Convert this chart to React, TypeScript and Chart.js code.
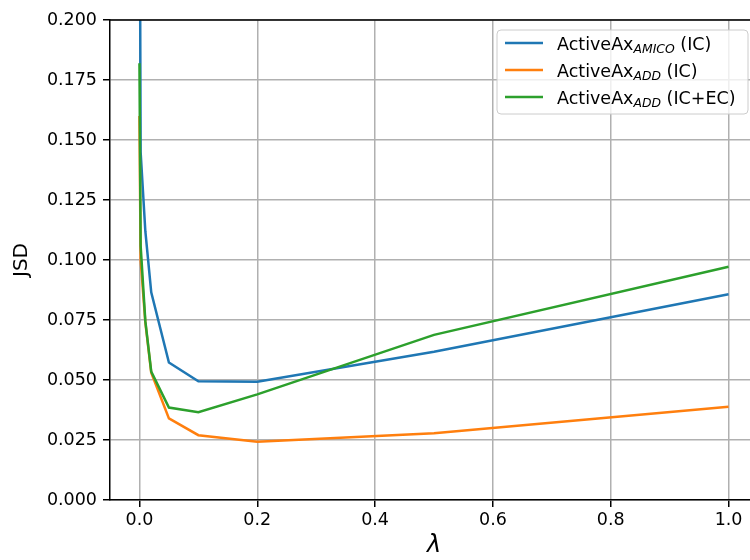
import React, { useEffect, useRef } from "react";
import { Chart, registerables } from "chart.js";

Chart.register(...registerables);

const LAMBDA = [0, 0.002, 0.01, 0.02, 0.05, 0.1, 0.2, 0.5, 1.0];
const AMICO_IC = [0.3, 0.145, 0.112, 0.0865, 0.0573, 0.0495, 0.0493, 0.0618, 0.0857];
const ADD_IC = [0.16, 0.1, 0.074, 0.053, 0.034, 0.027, 0.0243, 0.0278, 0.0389];
const ADD_ICEC = [0.182, 0.106, 0.0745, 0.0535, 0.0385, 0.0366, 0.044, 0.0688, 0.0972];

const X_TICKS = [0, 0.2, 0.4, 0.6, 0.8, 1.0];
const Y_TICKS = [0, 0.025, 0.05, 0.075, 0.1, 0.125, 0.15, 0.175, 0.2];

const SERIES_BASE = ["ActiveAx", "ActiveAx", "ActiveAx"];
const SERIES_SUB = ["AMICO", "ADD", "ADD"];
const SERIES_SUFFIX = [" (IC)", " (IC)", " (IC+EC)"];
const SERIES_VALUES = [AMICO_IC, ADD_IC, ADD_ICEC];
const COLORS = ["#1f77b4", "#ff7f0e", "#2ca02c"];

const FAMILY = '"DejaVu Sans", sans-serif';
const FS = 17.5;
const CANVAS_W = 770;
const CANVAS_H = 560;

const framePlugin = {
  id: "frameAndLegend",
  afterDatasetsDraw(chart: any) {
    const ctx = chart.ctx as CanvasRenderingContext2D;
    const ca = chart.chartArea;
    ctx.save();
    // top and right spines
    ctx.strokeStyle = "#000";
    ctx.lineWidth = 1.5;
    ctx.beginPath();
    ctx.moveTo(ca.left, ca.top);
    ctx.lineTo(ca.right, ca.top);
    ctx.lineTo(ca.right, ca.bottom);
    ctx.stroke();

    // legend
    const right = ca.right - 10;
    const top = ca.top + 10;
    const w = 251;
    const h = 84;
    const left = right - w;
    const r = 4;
    ctx.beginPath();
    ctx.moveTo(left + r, top);
    ctx.lineTo(left + w - r, top);
    ctx.quadraticCurveTo(left + w, top, left + w, top + r);
    ctx.lineTo(left + w, top + h - r);
    ctx.quadraticCurveTo(left + w, top + h, left + w - r, top + h);
    ctx.lineTo(left + r, top + h);
    ctx.quadraticCurveTo(left, top + h, left, top + h - r);
    ctx.lineTo(left, top + r);
    ctx.quadraticCurveTo(left, top, left + r, top);
    ctx.closePath();
    ctx.fillStyle = "rgba(255,255,255,0.8)";
    ctx.fill();
    ctx.strokeStyle = "#cccccc";
    ctx.lineWidth = 1;
    ctx.stroke();

    for (let i = 0; i < SERIES_BASE.length; i++) {
      const cy = top + 13 + i * 27;
      ctx.strokeStyle = COLORS[i];
      ctx.lineWidth = 2.5;
      ctx.beginPath();
      ctx.moveTo(left + 8, cy);
      ctx.lineTo(left + 46, cy);
      ctx.stroke();

      ctx.fillStyle = "#000";
      ctx.textBaseline = "alphabetic";
      ctx.textAlign = "left";
      let x = left + 60;
      const base = cy + 7;
      ctx.font = `${FS}px ${FAMILY}`;
      ctx.fillText(SERIES_BASE[i], x, base);
      x += ctx.measureText(SERIES_BASE[i]).width;
      ctx.font = `italic ${FS * 0.71}px ${FAMILY}`;
      ctx.fillText(SERIES_SUB[i], x, base + 3);
      x += ctx.measureText(SERIES_SUB[i]).width;
      ctx.font = `${FS}px ${FAMILY}`;
      ctx.fillText(SERIES_SUFFIX[i], x, base);
    }
    ctx.restore();
  },
};

export default function App() {
  const ref = useRef<HTMLCanvasElement | null>(null);

  useEffect(() => {
    if (!ref.current) return;
    const tickFont = { family: FAMILY, size: FS };
    const chart = new Chart(ref.current, {
      type: "line",
      data: {
        datasets: SERIES_VALUES.map((vals, i) => ({
          label: SERIES_BASE[i] + SERIES_SUB[i] + SERIES_SUFFIX[i],
          data: LAMBDA.map((x, j) => ({ x, y: vals[j] })),
          borderColor: COLORS[i],
          backgroundColor: COLORS[i],
          borderWidth: 2.5,
          pointRadius: 0,
          fill: false,
          tension: 0,
          order: 3 - i,
        })),
      },
      options: {
        animation: false,
        responsive: false,
        devicePixelRatio: 1,
        layout: { padding: { left: 0, top: 20, right: CANVAS_W - 758, bottom: 0 } },
        plugins: { legend: { display: false }, tooltip: { enabled: false } },
        scales: {
          x: {
            type: "linear",
            min: -0.05,
            max: 1.05,
            afterBuildTicks: (s: any) => {
              s.ticks = X_TICKS.map((v) => ({ value: v }));
            },
            afterFit: (s: any) => {
              s.height = 60;
            },
            ticks: {
              callback: (v: any) => Number(v).toFixed(1),
              font: tickFont,
              color: "#000",
              padding: 3,
              maxRotation: 0,
              autoSkip: false,
            },
            grid: { color: "#b0b0b0", lineWidth: 1.5, tickLength: 7, tickColor: "#000", tickWidth: 1.5 },
            border: { color: "#000", width: 1.5 },
            title: {
              display: true,
              text: "λ",
              font: { family: FAMILY, size: 24, style: "italic" },
              color: "#000",
              padding: { top: 0, bottom: 0 },
            },
          },
          y: {
            type: "linear",
            min: 0,
            max: 0.2,
            afterBuildTicks: (s: any) => {
              s.ticks = Y_TICKS.map((v) => ({ value: v }));
            },
            afterFit: (s: any) => {
              s.width = 110;
            },
            ticks: {
              callback: (v: any) => Number(v).toFixed(3),
              font: tickFont,
              color: "#000",
              padding: 6,
              autoSkip: false,
            },
            grid: { color: "#b0b0b0", lineWidth: 1.5, tickLength: 7, tickColor: "#000", tickWidth: 1.5 },
            border: { color: "#000", width: 1.5 },
            title: {
              display: true,
              text: "JSD",
              font: { family: FAMILY, size: 20 },
              color: "#000",
              padding: { top: 10, bottom: 0 },
            },
          },
        },
      },
      plugins: [framePlugin],
    } as any);
    return () => chart.destroy();
  }, []);

  return (
    <div
      style={{
        position: "fixed",
        left: 0,
        top: 0,
        width: 750,
        height: 560,
        overflow: "hidden",
        background: "#fff",
      }}
    >
      <canvas ref={ref} width={CANVAS_W} height={CANVAS_H} style={{ display: "block" }} />
    </div>
  );
}
